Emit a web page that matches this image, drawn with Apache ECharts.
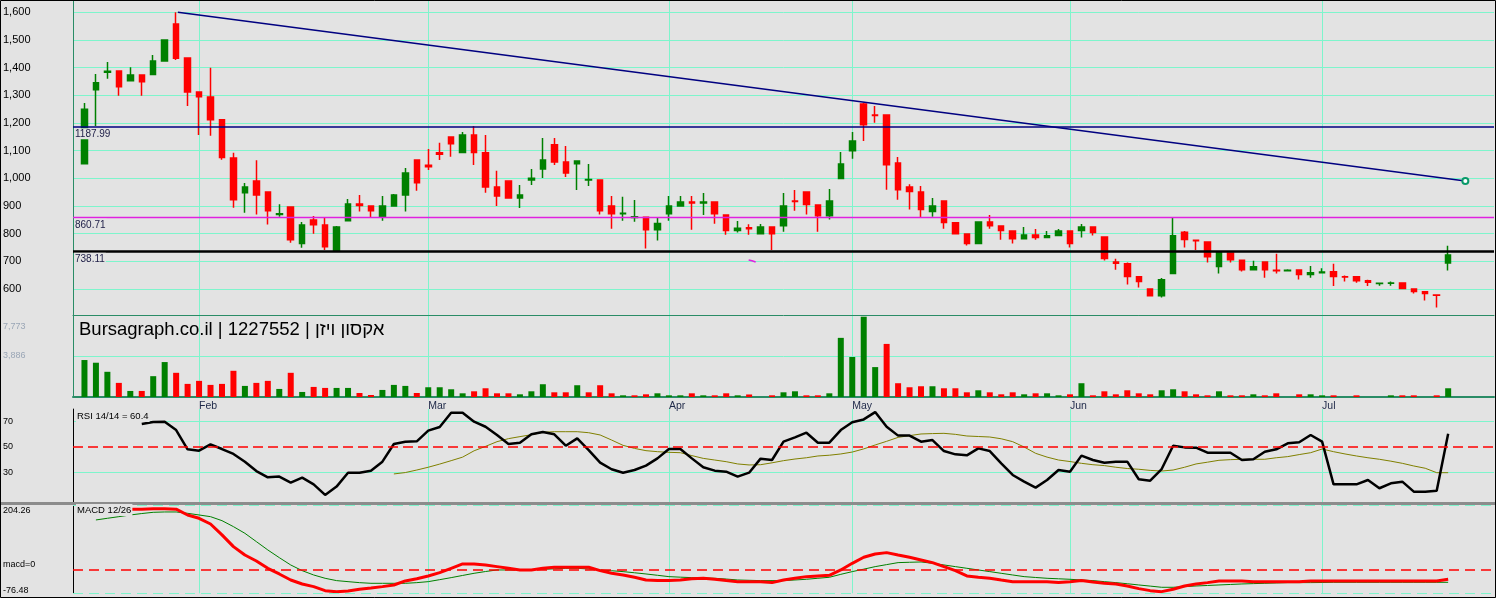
<!DOCTYPE html>
<html><head><meta charset="utf-8">
<script src="https://cdn.jsdelivr.net/npm/echarts@6/dist/echarts.min.js"></script>
<style>html,body{margin:0;padding:0;background:#e3e3e3;overflow:hidden}#c{width:1496px;height:598px}</style>
</head><body><div id="c"></div><script>
// ---------- data (candles are at category index 1..120) ----------
const open = [1053,1320,1383,1388,1353,1373,1375,1424,1558,1435, 1312,1294,1212,1073,948,990,951,869,896,764, 849,831,738,847,907,900,860,900,940,1066, 1047,1092,1149,1093,1157,1092,969,990,929,994, 1034,1121,1059,1053,994,994,900,872,858,859, 814,872,900,914,911,914,867,811,821,800, 824,829,918,951,904,865,999,1100,1269,1229, 1229,1055,969,951,880,918,839,799,764,842, 828,810,782,795,786,793,810,811,824,788, 698,691,644,600,576,656,805,776,770,681, 730,704,670,698,668,666,669,652,659,662, 644,644,630,620,621,622,600,590,578,694];
const close = [1250,1345,1387,1331,1373,1349,1424,1500,1434,1312, 1295,1212,1075,923,969,940,883,872,778,831, 832,753,824,907,902,883,900,940,1019,984, 1042,1087,1125,1157,1093,969,936,929,940,1000, 1066,1059,1019,1063,996,883,872,874,861,814, 837,900,914,911,914,872,811,820,818,824, 800,900,916,905,865,918,1052,1135,1194,1227, 1049,959,952,887,900,840,800,764,842,829, 811,782,795,786,792,810,764,824,804,710, 693,645,627,576,633,792,779,774,717,735, 706,670,680,670,666,668,652,659,661,645, 643,630,624,621,622,602,591,584,577,723];
const low = [1053,1189,1360,1298,1353,1298,1375,1424,1428,1261, 1157,1154,1067,894,876,869,833,861,767,749, 800,741,738,847,880,860,847,900,880,955, 1030,1066,1078,1093,1048,948,900,929,893,976, 1001,1048,1005,958,972,869,818,847,843,746, 775,847,900,814,867,836,796,804,796,800, 741,807,883,869,807,851,999,1071,1135,1201, 959,923,887,859,861,818,800,757,764,818, 778,764,782,778,786,793,750,786,793,703, 670,616,605,576,569,656,750,741,696,656, 696,663,670,641,656,663,634,641,659,611, 627,623,611,612,612,602,584,558,533,667];
const high = [1272,1377,1420,1388,1401,1373,1446,1500,1600,1435, 1312,1400,1212,1092,983,1065,951,906,896,842, 864,859,828,925,940,900,936,943,1037,1066, 1106,1129,1149,1167,1189,1157,1027,990,976,1034, 1146,1146,1117,1063,1052,994,936,933,922,859, 858,936,936,936,947,914,867,846,834,835, 824,947,958,951,904,961,1095,1167,1273,1261, 1229,1077,979,972,929,918,839,799,842,867, 828,810,824,817,810,817,810,835,824,788, 709,696,644,600,640,857,810,776,770,735, 730,704,702,698,727,671,669,683,675,691, 649,644,633,621,627,622,600,590,578,756];
const volume = [3504,3249,2389,1338,573,573,1975,3312,2293,1242, 1529,1147,1242,2484,1051,1338,1529,764,2293,478, 955,860,860,860,382,191,669,1147,1051,382,
 924,924,733,350,541,828,350,350,255,541, 1210,446,446,1115,446,1115,350,159,159,255, 350,159,159,350,159,159,350,159,240,0,
 159,446,541,159,159,350,5606,3790,7612,2835, 5032,1306,924,1019,1019,828,828,446,637,446, 255,446,255,350,350,159,255,1306,159,541,
 255,637,350,255,637,733,541,255,159,541, 159,159,255,159,350,0,255,255,159,159, 0,159,0,0,159,159,159,0,159,828];
const volumeDir = ('gggrgrggrrrrrrgrrgrgrrggrrgggr' + 'ggggrrrrgggrrgrrrgrrgggrgrrgrg' +
                   'rggrrgggggrrrrgrrrgrrrgrggrgrr' + 'rrrrggrrrgrrgrrgrggrrrrggrrrrg').split('');
const rsi = [null,null,null,null,null, 68.2,69.7,70,63.4,48.2, 47.1,52.1,48.4,44.5,38.4, 31,26,26.6,21.8,25.8, 20.5,12.1,18.7,29.7,29.7, 31.3,38.4,52.4,54.2,54.5,
 62.9,65.8,77.1,77.1,70, 66,59.5,52.4,53.4,60, 61.8,60,51,56.8,47.6, 37.6,32.4,29.7,31.8,35.3, 41,48.4,48.4,41,34, 31.3,30.5,26.6,29.7,40.8,
 39.7,54.2,57.6,61.3,53.4, 53.4,63.4,69.5,71.8,77.6, 66,59,59,54.2,55.5, 46.8,44.2,43.4,48.9,46.8, 37.1,27.9,22.6,17.9,23.9, 31.8,30.5,43.2,39.7,37.6,
 38.4,38.4,24.5,23.4,32.6, 51,49.7,49.5,45.5,45.5, 45.5,39.7,40.3,46.3,48.2, 52.9,53.7,59.5,54.2,20.5, 20.5,20.5,23.9,17.4,21.3, 22.6,14.7,14.7,15.5,60.4];
const rsiSignal = [null,null,null,null,null,null,null,null,null,null, null,null,null,null,null,null,null,null,null,null, null,null,null,null,null,null,null,28.7,29.8,31.8,
 34,36.5,39.2,42,47, 50.5,54.2,56.6,58.2,59.7, 61.6,62.1,62.1,62.1,61.3, 59.5,55.5,51.3,48.9,47.1, 46.3,45.8,45.5,43.2,41, 39.7,38.4,36.6,35.8,36,
 37.5,39.2,40.5,41.5,42.9, 43.5,44.5,46,48.5,51.6, 54.5,57.6,59,60.3,60.6, 60.8,60,58.7,58.3,57.9, 56.5,54.2,50,45,42, 39.7,38.5,37.1,36,35.3,
 34,33,32.4,31.5,31, 31.8,34,36.6,38,39.5, 40,40.3,40.3,40.3,41.5, 42.4,44,45.5,48.4,46.3, 44.5,42.9,41.5,40.3,38.8, 37.1,35,33.2,29.7,29.7];
const macd = [null,190,190,191,191.5,191.5,193.6,193.6,192,173.4,
 162.8,144.7,110,72.4,45.8, 26.7,3.3,-14.8,-34,-46.7, -55.2,-68,-71.2,-69,-63.7, -59.5,-55.2,-49.9,-37.1,-30,
 -21.2,-10.6,3.3,17.1,17.1, 13.9,8.6,3.3,-2,-2, 3.3,6.5,6.5,6.5,6.5, -4.2,-12.7,-18,-25.4,-34, -36,-36,-34,-29.7,-28.6, -31.8,-36,-39.3,-39.3,-39.3,
 -42.4,-34,-28.6,-23.3,-21.2, -19.1,-2,19.2,38.4,49, 53.3,45.8,38.4,29.9,21.4, 8.6,-4.2,-21.2,-25.4,-28.6, -34,-39.3,-39.3,-39.3,-39.3, -42.4,-39.3,-36,-40.3,-44.5,
 -46.7,-53.1,-61.6,-68,-71.2, -63.7,-53.1,-46.7,-42.4,-37.1, -37.1,-37.1,-39.3,-39.3,-39.3, -39.3,-39.3,-37.5,-37.5,-37.5, -37.5,-37.5,-37.5,-37.5,-37.5, -37.5,-37.5,-37.5,-37.5,-31.8];
const macdSignal = [null,157.5,162.8,168,173.4,178,181.9,183,183,178.7,
 173.4,168,155.3,136.2,114.9, 88.4,61.8,37.3,13.9,-4.2, -18,-28.6,-36,-39.3,-42.5, -44.6,-44.6,-44.6,-44.6,-42.5,
 -39.3,-33,-26.5,-19.5,-12.7, -7,-2,-2,-2,-1, 0.1,1.5,3.3,3.3,1, -2,-4.5,-7.3,-11,-14.8, -19,-23.3,-25,-26.5,-27.5, -28.6,-31,-34,-35,-36,
 -36,-36,-34,-31.8,-28.5, -25.4,-16,-7.3,0.5,8.6, 15,21.4,22.5,23.5,19.2, 14,8.6,3.3,-2,-7.3, -12.7,-18,-23.3,-26,-28.6, -30.2,-31.8,-34,-36,-39.3,
 -42.4,-46,-49.9,-53.5,-57.3, -57.3,-55.2,-53.1,-51.5,-49.9, -48.3,-46.7,-45.6,-44.6,-43.5, -42.4,-42.4,-42.4,-42,-41.4, -41.4,-41.4,-41.4,-41.4,-41.4, -41.4,-41.4,-41.4,-41.4,-41.4];
const monthPos = [11,31,52,68,87,109];
const monthNames = ['Feb','Mar','Apr','May','Jun','Jul'];
const priceTicks = [600,700,800,900,1000,1100,1200,1300,1400,1500,1600];
const levelValues = [1187.99, 860.71, 738.11];
const trendPoints = [[9.15,1600],[121.5,990]];
const rsiLevels = [30,50,70];
const macdMax = 204.26, macdMin = -76.48;
const volMax = 7773;
const title = 'Bursagraph.co.il | 1227552 | אקסון ויזן';
const rsiTitle = 'RSI 14/14 = 60.4';
const macdTitle = 'MACD 12/26';

// ---------- styling ----------
const FONT = "'Liberation Sans', Arial, sans-serif";
const BG = '#e3e3e3', AQUA = '#7ef5cc', DG = '#2a8c66', GREEN = '#008000', RED = '#ff0000';
const T = 'rgba(0,0,0,0)';
const NCAT = 125;
const cats = Array.from({length: NCAT}, (_, i) => String(i));
const isMonth = (i) => monthPos.indexOf(i) >= 0;
const pairs = (arr) => arr.map((v, i) => v == null ? null : [i + 1, v]).filter(Boolean);

const candleData = open.map((o, i) => [i + 1, o, close[i], low[i], high[i]]);
const volData = volume.map((v, i) => ({value: [i + 1, v], itemStyle: {color: volumeDir[i] === 'g' ? GREEN : RED}}));

const gridL = 73, gridR = 2;
const pxPer = 0.2767;
const priceTop = 12.3 - (1700 - 1600) * pxPer;
const priceH = (1700 - 500) * pxPer;
const rsiTop = 421.7 - (80 - 70) * 1.265;
const rsiH = 80 * 1.265;

function catAxis(gridIndex, opts) {
  return Object.assign({
    type: 'category', gridIndex, data: cats, boundaryGap: false,
    axisLine: {show: false}, axisTick: {show: false}, axisLabel: {show: false},
    splitLine: {show: true, interval: (i) => isMonth(i), lineStyle: {color: AQUA, width: 1}}
  }, opts || {});
}

const priceSplitColors = [];
for (let v = 500; v <= 1700; v += 100) priceSplitColors.push(priceTicks.indexOf(v) >= 0 ? AQUA : T);
const rsiSplitColors = [];
for (let v = 0; v <= 80; v += 10) rsiSplitColors.push((v === 30 || v === 70) ? AQUA : T);

const fmtThousands = (v) => String(v).replace(/\B(?=(\d{3})+(?!\d))/g, ',');

const gridBase = {left: gridL, right: gridR, containLabel: false, outerBoundsMode: 'none'};
const option = {
  backgroundColor: BG,
  animation: false,
  textStyle: {fontFamily: FONT},
  grid: [
    Object.assign({top: priceTop, height: priceH}, gridBase),
    Object.assign({top: 315, height: 82}, gridBase),
    Object.assign({top: rsiTop, height: rsiH}, gridBase),
    Object.assign({top: 505.3, height: 88}, gridBase)
  ],
  xAxis: [
    catAxis(0),
    catAxis(1, {
      axisLine: {show: true, onZero: false, lineStyle: {color: DG, width: 2}},
      axisLabel: {show: true, interval: (i) => isMonth(i), formatter: (v) => monthNames[monthPos.indexOf(+v)] || '',
        align: 'left', margin: 4, fontSize: 10.5, color: '#1e2848', fontFamily: FONT}
    }),
    catAxis(2),
    catAxis(3),
    {type: 'value', gridIndex: 0, min: 0, max: NCAT - 1, show: false},
    {type: 'category', gridIndex: 1, data: cats, boundaryGap: false, position: 'top',
      axisLine: {show: true, onZero: false, lineStyle: {color: DG, width: 1}}, axisTick: {show: false},
      axisLabel: {show: false}, splitLine: {show: false}}
  ],
  yAxis: [
    {type: 'value', gridIndex: 0, min: 500, max: 1700, interval: 100, scale: false,
      axisLine: {show: true, lineStyle: {color: DG, width: 1}}, axisTick: {show: false},
      axisLabel: {align: 'left', margin: 70, fontSize: 11, color: '#000', fontFamily: FONT,
        formatter: (v) => priceTicks.indexOf(v) >= 0 ? fmtThousands(v) : ''},
      splitLine: {show: true, lineStyle: {color: priceSplitColors, width: 1}}},
    {type: 'value', gridIndex: 1, min: 0, max: volMax, interval: volMax / 2,
      axisLine: {show: true, lineStyle: {color: DG, width: 1}}, axisTick: {show: false},
      axisLabel: {show: false},
      splitLine: {show: true, lineStyle: {color: [T, AQUA, T], width: 1}}},
    {type: 'value', gridIndex: 2, min: 0, max: 80, interval: 10,
      axisLine: {show: true, lineStyle: {color: '#000', width: 1}}, axisTick: {show: false},
      axisLabel: {align: 'left', margin: 70, fontSize: 9, color: '#000', fontFamily: FONT,
        formatter: (v) => rsiLevels.indexOf(v) >= 0 ? String(v) : ''},
      splitLine: {show: true, lineStyle: {color: rsiSplitColors, width: 1}}},
    {type: 'value', gridIndex: 3, min: macdMin, max: macdMax,
      axisLine: {show: true, lineStyle: {color: '#000', width: 1}}, axisTick: {show: false},
      axisLabel: {show: false}, splitLine: {show: false}}
  ],
  series: [
    {type: 'candlestick', xAxisIndex: 0, yAxisIndex: 0, data: candleData, encode: {x: 0, y: [1, 2, 3, 4]},
      barWidth: 6, z: 2,
      itemStyle: {color: GREEN, color0: RED, borderColor: GREEN, borderColor0: RED, borderWidth: 1.5}},
    {type: 'line', xAxisIndex: 4, yAxisIndex: 0, z: 5, silent: true,
      data: [{value: trendPoints[0], symbol: 'none'},
             {value: trendPoints[1], symbol: 'emptyCircle', symbolSize: 6,
              itemStyle: {color: '#0a9a6a', borderColor: '#0a9a6a', borderWidth: 2}}],
      lineStyle: {color: '#000080', width: 1.5},
      markLine: {silent: true, symbol: ['none', 'none'], animation: false,
        data: levelValues.map((v, i) => ({
          yAxis: v,
          lineStyle: {type: 'solid', color: ['#000080', '#e020e0', '#000000'][i], width: [1.5, 1.3, 2.5][i]},
          label: {show: true, position: 'insideStartBottom', formatter: v.toFixed(2), distance: [1, 2],
            fontSize: 10, color: '#22224a', fontFamily: FONT, backgroundColor: BG, padding: [1, 1, 0, 1]}
        }))}},
    {type: 'line', xAxisIndex: 4, yAxisIndex: 0, z: 5, silent: true, symbol: 'none',
      data: [[58.96, 704.8], [59.25, 702], [59.57, 697.6]], lineStyle: {color: '#e020e0', width: 1.5}},
    {type: 'bar', xAxisIndex: 1, yAxisIndex: 1, data: volData, barWidth: 6},
    {type: 'line', xAxisIndex: 2, yAxisIndex: 2, data: pairs(rsiSignal), symbol: 'none', z: 3,
      lineStyle: {color: '#808000', width: 1}},
    {type: 'line', xAxisIndex: 2, yAxisIndex: 2, data: pairs(rsi), symbol: 'none', z: 4,
      lineStyle: {color: '#000', width: 2.5},
      markLine: {silent: true, symbol: ['none', 'none'], animation: false,
        data: [{yAxis: 50}], label: {show: false},
        lineStyle: {color: RED, type: [10, 5], width: 1.5}}},
    {type: 'line', xAxisIndex: 3, yAxisIndex: 3, data: pairs(macdSignal), symbol: 'none', z: 3,
      lineStyle: {color: GREEN, width: 1},
      markLine: {silent: true, symbol: ['none', 'none'], animation: false, label: {show: false},
        data: [{yAxis: macdMax}, {yAxis: macdMin}],
        lineStyle: {color: AQUA, type: [10, 6], width: 1.2}}},
    {type: 'line', xAxisIndex: 3, yAxisIndex: 3, data: pairs(macd), symbol: 'none', z: 4,
      lineStyle: {color: RED, width: 3},
      markLine: {silent: true, symbol: ['none', 'none'], animation: false, label: {show: false},
        data: [{yAxis: 0}],
        lineStyle: {color: RED, type: [10, 6], width: 1.5}}}
  ],
  graphic: [
    {type: 'rect', z: 50, silent: true, shape: {x: 0, y: 502, width: 1496, height: 3}, style: {fill: '#8c8c8c'}},
    {type: 'text', z: 60, silent: true, style: {text: title, x: 79, y: 330, verticalAlign: 'middle',
      font: '18.5px ' + FONT, fill: '#000'}},
    {type: 'text', z: 60, silent: true, style: {text: fmtThousands(volMax), x: 3, y: 327, verticalAlign: 'middle',
      font: '9px ' + FONT, fill: '#9aa6b6'}},
    {type: 'text', z: 60, silent: true, style: {text: fmtThousands(Math.floor(volMax / 2)), x: 3, y: 356, verticalAlign: 'middle',
      font: '9px ' + FONT, fill: '#9aa6b6'}},
    {type: 'text', z: 60, silent: true, style: {text: rsiTitle, x: 76, y: 416, verticalAlign: 'middle',
      font: '9.5px ' + FONT, fill: '#000', backgroundColor: BG, padding: [1, 1]}},
    {type: 'text', z: 60, silent: true, style: {text: macdTitle, x: 76, y: 510, verticalAlign: 'middle',
      font: '9.5px ' + FONT, fill: '#000', backgroundColor: BG, padding: [1, 1]}},
    {type: 'text', z: 60, silent: true, style: {text: macdMax.toFixed(2), x: 3, y: 510.7, verticalAlign: 'middle',
      font: '9px ' + FONT, fill: '#000'}},
    {type: 'text', z: 60, silent: true, style: {text: 'macd=0', x: 3, y: 565, verticalAlign: 'middle',
      font: '9px ' + FONT, fill: '#000'}},
    {type: 'text', z: 60, silent: true, style: {text: macdMin.toFixed(2), x: 3, y: 590.7, verticalAlign: 'middle',
      font: '9px ' + FONT, fill: '#000'}},
    {type: 'rect', z: 70, silent: true, shape: {x: 0.5, y: 0.5, width: 1495, height: 597},
      style: {fill: 'none', stroke: '#000', lineWidth: 1}}
  ]
};

const chart = echarts.init(document.getElementById('c'), null, {renderer: 'canvas'});
chart.setOption(option);
</script></body></html>
